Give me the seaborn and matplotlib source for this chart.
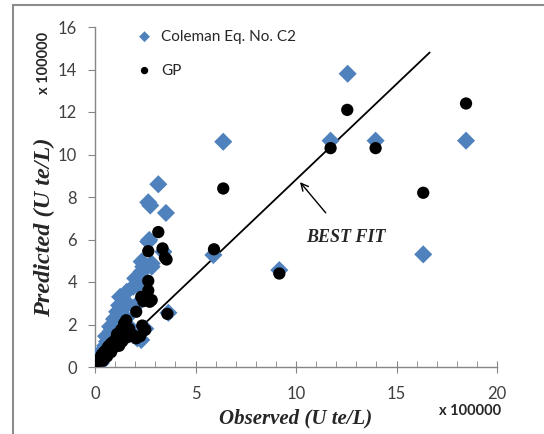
import numpy as np
import pandas as pd
import matplotlib
matplotlib.use('Agg')
import matplotlib.pyplot as plt
from matplotlib.patches import Rectangle
import seaborn as sns

# Coleman Eq. No. C2 (blue diamonds), values in units of 100000
coleman_x = [0.05, 0.15, 0.2, 0.3, 0.4, 0.5, 0.6, 0.7, 0.8, 0.9, 1.0, 1.1, 1.2, 1.25,
             1.45, 1.6, 1.35, 1.55, 1.7, 1.9, 2.1, 2.3, 2.5, 1.2, 1.0, 0.8, 0.6, 0.4, 0.3,
             0.55, 0.75, 0.95, 1.15, 1.4, 1.05, 0.85,
             1.58, 1.91, 2.0, 2.15, 2.15, 2.32, 2.32, 2.32, 2.4, 2.57, 2.82, 2.82,
             2.65, 2.7, 3.4, 3.65, 2.65, 2.75, 3.15, 3.53,
             5.89, 6.38, 9.17, 11.72, 12.57, 13.96, 16.33, 18.46]
coleman_y = [0.1, 0.3, 0.5, 0.7, 0.8, 1.0, 1.2, 1.4, 1.7, 2.0, 2.3, 2.6, 2.9, 3.3,
             3.15, 2.95, 2.7, 2.3, 1.9, 1.5, 1.35, 1.27, 1.8, 1.6, 1.3, 1.0, 0.7, 0.5, 0.2,
             1.45, 1.9, 2.25, 2.1, 1.95, 1.75, 1.35,
             3.54, 3.78, 4.17, 3.86, 3.0, 4.25, 4.49, 4.96, 4.72, 4.72, 4.72, 4.87,
             5.9, 5.98, 5.42, 2.55, 7.75, 7.6, 8.6, 7.25,
             5.27, 10.6, 4.56, 10.65, 13.8, 10.65, 5.3, 10.65]

# GP (black circles)
gp_x = [0.05, 0.1, 0.2, 0.3, 0.35, 0.45, 0.55, 0.65, 0.75, 0.85, 0.95, 1.05, 1.1, 1.2,
        1.3, 1.45, 1.55, 1.7, 1.9, 2.05, 2.25, 2.35, 2.5, 1.6, 1.35, 1.2, 1.0, 0.8, 0.6, 0.4,
        2.05, 2.3, 2.4, 2.65, 2.65, 2.82, 2.72, 3.6, 2.65, 3.36, 3.48, 3.56, 3.15,
        5.92, 6.38, 9.17, 11.72, 12.55, 13.96, 16.33, 18.46]
gp_y = [0.15, 0.25, 0.35, 0.5, 0.6, 0.7, 0.8, 0.95, 1.05, 1.15, 1.2, 1.35, 1.55, 1.6,
        1.75, 2.05, 2.2, 1.8, 1.5, 1.35, 1.45, 1.95, 1.75, 1.4, 1.2, 1.0, 0.95, 0.7, 0.5, 0.3,
        2.6, 3.3, 3.1, 3.6, 4.05, 3.15, 3.07, 2.5, 5.45, 5.58, 5.15, 5.06, 6.35,
        5.54, 8.4, 4.4, 10.3, 12.1, 10.3, 8.2, 12.4]

fit_x = [0.2, 16.65]
fit_y = [0.0, 14.8]

sns.set_style('white')
plt.rcParams['font.family'] = ['Lato', 'DejaVu Sans']

fig = plt.figure(figsize=(5.44, 4.34), dpi=100)
ax = fig.add_axes([95 / 544, 67 / 434, 402 / 544, 340 / 434])

sns.scatterplot(x=coleman_x, y=coleman_y, marker='D', s=85, color='#4F81BD',
                edgecolor='none', ax=ax, label='Coleman Eq. No. C2', zorder=3)
sns.scatterplot(x=gp_x, y=gp_y, marker='o', s=78, color='black',
                edgecolor='none', ax=ax, label='GP', zorder=4)
ax.plot(fit_x, fit_y, color='black', lw=1.3, zorder=2)

ax.set_xlim(0, 20)
ax.set_ylim(0, 16)
ax.set_xticks(range(0, 21, 5))
ax.set_xticks(range(0, 21, 1), minor=True)
ax.set_yticks(range(0, 17, 2))

for s in ['top', 'right']:
    ax.spines[s].set_visible(False)
for s in ['left', 'bottom']:
    ax.spines[s].set_color('#868686')
    ax.spines[s].set_linewidth(1.0)

ax.tick_params(axis='x', which='major', direction='inout', length=8, color='#868686',
               labelsize=12, labelcolor='#404040', pad=10)
ax.tick_params(axis='x', which='minor', direction='in', length=4, color='#868686')
ax.tick_params(axis='y', which='major', direction='out', length=5, color='#868686',
               labelsize=12, labelcolor='#404040', pad=8)
ax.tick_params(left=True, bottom=True)
ax.tick_params(axis='x', which='minor', bottom=True)

ax.set_xlabel('Observed (U te/L)', family='Liberation Serif', style='italic',
              weight='bold', fontsize=15, labelpad=4)
ax.set_ylabel('Predicted (U te/L)', family='Liberation Serif', style='italic',
              weight='bold', fontsize=17.5)
ax.yaxis.set_label_coords(-0.1, 0.41)

fig.text(470 / 544, 1 - 411 / 434, 'x 100000', ha='center', va='center',
         fontsize=10.5, weight='bold')
fig.text(44 / 544, 1 - 63 / 434, 'x 100000', ha='center', va='center',
         fontsize=10.5, weight='bold', rotation=90)

ax.annotate('BEST FIT', xy=(10.2, 8.7), xytext=(12.5, 6.1),
            family='Liberation Serif', style='italic', weight='bold', fontsize=13,
            ha='center', va='center',
            arrowprops=dict(arrowstyle='->', color='black', lw=1.0,
                            shrinkA=12, shrinkB=0))

ax.legend(loc='upper left', bbox_to_anchor=(0.07, 1.01), frameon=False,
          fontsize=11, labelspacing=1.3, handletextpad=0.1, borderaxespad=0.0,
          markerscale=0.6)

fig.patches.append(Rectangle((13 / 544, -0.1), 1.2, 1 - 5 / 434 + 0.1,
                             transform=fig.transFigure, fill=False,
                             edgecolor='#8c8c8c', lw=1.5))

fig.savefig('out.png', dpi=100)
